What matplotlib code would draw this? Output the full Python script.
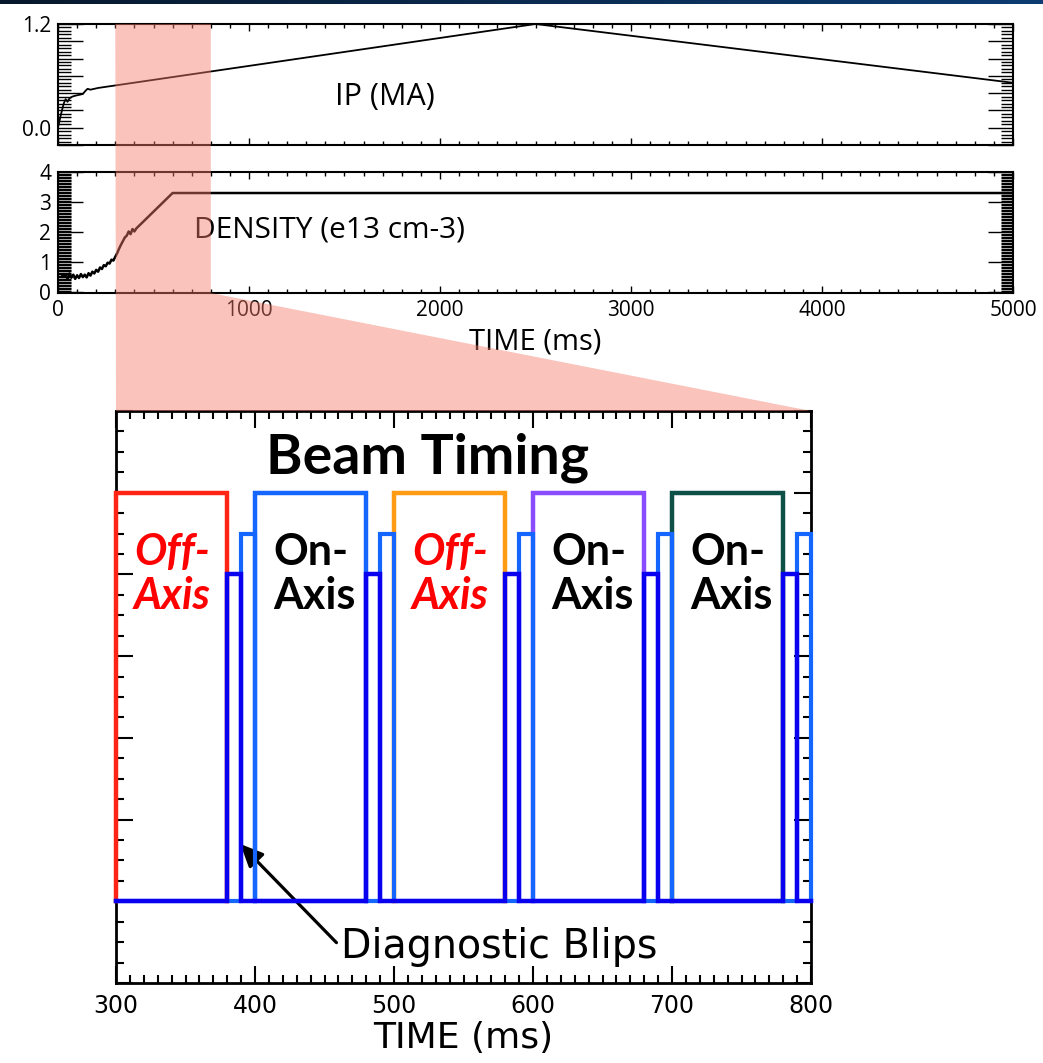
import numpy as np
import matplotlib
matplotlib.use('Agg')
import matplotlib.pyplot as plt
from matplotlib.ticker import MultipleLocator
from matplotlib.colors import LinearSegmentedColormap
from matplotlib.patches import Polygon

# plasma current (MA) vs time (ms)
ip_time = [0, 15, 30, 40, 50, 60, 75, 90, 110, 130, 145, 155, 170, 190, 210, 2500, 5000]
ip_value = [0.0, 0.15, 0.28, 0.33, 0.30, 0.34, 0.36, 0.37, 0.38, 0.39, 0.43, 0.45,
            0.44, 0.45, 0.46, 1.2, 0.52]

# line density (e13 cm-3) vs time (ms)
dens_time = [20, 30, 40, 50, 60, 70, 80, 90, 100, 110, 120, 130, 140, 150, 160, 170,
             180, 190, 200, 210, 220, 230, 240, 250, 260, 270, 280, 290, 300, 310,
             320, 330, 340, 350, 360, 370, 380, 390, 400, 410, 600, 5000]
dens_value = [0.52, 0.60, 0.55, 0.45, 0.62, 0.48, 0.58, 0.44, 0.56, 0.47, 0.60, 0.50,
              0.58, 0.49, 0.63, 0.55, 0.68, 0.62, 0.74, 0.68, 0.82, 0.77, 0.90, 0.86,
              0.98, 0.95, 1.08, 1.05, 1.18, 1.30, 1.45, 1.58, 1.70, 1.82, 1.88, 2.02,
              1.93, 2.10, 2.02, 2.12, 3.30, 3.30]

top_xticks = [0, 1000, 2000, 3000, 4000, 5000]
ip_yticks = [-0.2, 0.0, 0.2, 0.4, 0.6, 0.8, 1.0, 1.2]
ip_yticklabels = ['', '0.0', '', '', '', '', '', '1.2']
dens_yticks = [0, 1, 2, 3, 4]

# beam timing window
beam_on = [300, 400, 500, 600, 700]
beam_off = [380, 480, 580, 680, 780]
beam_colors = ['#ff2414', '#1466ff', '#ff9c14', '#8a4cff', '#0c5048']
beam_labels = ['Off-\nAxis', 'On-\nAxis', 'Off-\nAxis', 'On-\nAxis', 'On-\nAxis']
label_colors = ['#ff0000', 'black', '#ff0000', 'black', 'black']
label_styles = ['italic', 'normal', 'italic', 'normal', 'normal']
beam_level = 1.0

blip_dark_on = [380, 480, 580, 680, 780]
blip_light_on = [390, 490, 590, 690, 790]
blip_width = 10
blip_dark_level = 0.8
blip_light_level = 0.9


def pulse_train(starts, width, level, t0, t1):
    xs, ys = [t0], [0]
    for s in starts:
        xs += [s, s, s + width, s + width]
        ys += [0, level, level, 0]
    xs.append(t1)
    ys.append(0)
    return xs, ys


W, H = 1043, 1063
fig = plt.figure(figsize=(W / 100, H / 100), dpi=100)

# header strip
hdr = fig.add_axes([0, 1 - 4 / H, 1, 4 / H])
hdr.imshow(np.linspace(0, 1, 256)[None, :], aspect='auto',
           cmap=LinearSegmentedColormap.from_list('hdr', ['#07182c', '#0d3c72']))
hdr.axis('off')

top_font = 'Open Sans'
ax1 = fig.add_axes([58 / W, 1 - 145 / H, 955 / W, 121 / H])
ax2 = fig.add_axes([58 / W, 1 - 293 / H, 955 / W, 121 / H])

ax1.plot(ip_time, ip_value, color='black', lw=1.3)
ax1.set_xlim(0, 5000)
ax1.set_ylim(-0.2, 1.2)
ax1.set_yticks(ip_yticks, ip_yticklabels)
ax1.yaxis.set_minor_locator(MultipleLocator(0.04))
ax1.text(0.29, 0.4, 'IP (MA)', transform=ax1.transAxes, fontsize=22,
         family=top_font, ha='left', va='center')

ax2.plot(dens_time, dens_value, color='black', lw=1.8)
ax2.set_xlim(0, 5000)
ax2.set_ylim(-0.03, 4)
ax2.set_yticks(dens_yticks)
ax2.yaxis.set_minor_locator(MultipleLocator(0.05))
ax2.text(0.142, 0.52, 'DENSITY (e13 cm-3)', transform=ax2.transAxes, fontsize=21.5,
         family=top_font, ha='left', va='center')
ax2.set_xlabel('TIME (ms)', fontsize=21, family=top_font, labelpad=5)

for ax in (ax1, ax2):
    ax.set_xticks(top_xticks)
    ax.xaxis.set_minor_locator(MultipleLocator(100))
    ax.tick_params(axis='both', which='both', direction='in', top=True, right=True,
                   width=1.0, labelsize=15, pad=5)
    ax.tick_params(axis='x', which='major', length=5)
    ax.tick_params(axis='x', which='minor', length=3)
    ax.tick_params(axis='y', which='major', length=18)
    ax.tick_params(axis='y', which='minor', length=9)
    for lab in ax.get_xticklabels() + ax.get_yticklabels():
        lab.set_family(top_font)
    for sp in ax.spines.values():
        sp.set_linewidth(1.5)
ax1.tick_params(axis='x', labelbottom=False)

# zoomed beam timing panel
bot_font = 'DejaVu Sans'
ax3 = fig.add_axes([116 / W, 1 - 983 / H, 695 / W, 572 / H])
for s, e, c in zip(beam_on, beam_off, beam_colors):
    ax3.plot([s, s, e, e], [0, beam_level, beam_level, 0], color=c, lw=3.2,
             solid_joinstyle='miter', clip_on=False, zorder=3)
xs, ys = pulse_train(blip_light_on, blip_width, blip_light_level, 300, 800)
ax3.plot(xs, ys, color='#1466ff', lw=3.0, solid_joinstyle='miter', clip_on=False, zorder=3.1)
xs, ys = pulse_train(blip_dark_on, blip_width, blip_dark_level, 300, 800)
ax3.plot(xs, ys, color='#0a00f0', lw=3.2, solid_joinstyle='miter', clip_on=False, zorder=3.2)

for s, lab, c, st in zip(beam_on, beam_labels, label_colors, label_styles):
    ax3.text(s + 13, 0.8, lab, color=c, style=st, fontweight='bold', family='Lato',
             fontsize=31, ha='left', va='center', linespacing=1.12, zorder=5)

ax3.text(524, 1.047, 'Beam Timing', fontsize=40, fontweight='bold', family='Lato',
         ha='center', va='baseline', zorder=5)
ax3.annotate('Diagnostic Blips', xy=(389.5, 0.14), xytext=(462, -0.14),
             fontsize=28.5, family=bot_font, ha='left', va='baseline',
             arrowprops=dict(arrowstyle='-|>,head_length=0.55,head_width=0.25',
                             color='black', lw=2.3, mutation_scale=25,
                             relpos=(0, 0.5), shrinkB=0))

ax3.set_xlim(300, 800)
ax3.set_ylim(-0.2, 1.2)
ax3.xaxis.set_major_locator(MultipleLocator(100))
ax3.xaxis.set_minor_locator(MultipleLocator(10))
ax3.yaxis.set_major_locator(MultipleLocator(0.2))
ax3.yaxis.set_minor_locator(MultipleLocator(0.05))
ax3.tick_params(axis='both', which='both', direction='in', top=True, right=True,
                width=1.5, labelleft=False, labelsize=17, pad=8)
ax3.tick_params(which='major', length=12)
ax3.tick_params(which='minor', length=6)
for lab in ax3.get_xticklabels():
    lab.set_family(bot_font)
ax3.set_xlabel('TIME (ms)', fontsize=26, family=bot_font, labelpad=2)
for sp in ax3.spines.values():
    sp.set_linewidth(2)

# shaded zoom region linking the top plots to the timing panel
to_fig = fig.transFigure.inverted()
pts = [ax1.transData.transform((300, 1.2)),
       ax1.transData.transform((800, 1.2)),
       ax2.transData.transform((800, -0.03)),
       ax3.transData.transform((800, 1.2)),
       ax3.transData.transform((300, 1.2))]
pts = to_fig.transform(np.array(pts))
fig.patches.append(Polygon(pts, closed=True, transform=fig.transFigure,
                           facecolor='#f47a68', edgecolor='none', alpha=0.45,
                           zorder=1))

fig.savefig('out.png', dpi=100)
